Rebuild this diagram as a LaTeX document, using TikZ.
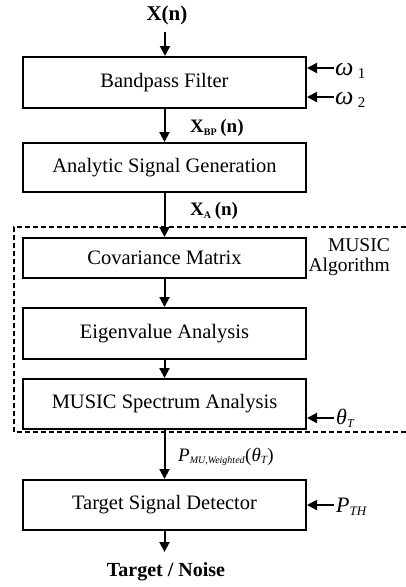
\documentclass[tikz,border=0pt]{standalone}
\usepackage{fontspec}
\setmainfont{Liberation Serif}
\usetikzlibrary{arrows.meta}
\begin{document}
\begin{tikzpicture}[x=1pt,y=-1pt,
  blk/.style={draw,line width=2pt,minimum width=283pt,inner sep=0pt,font=\fontsize{20.5}{23}\selectfont},
  arr/.style={line width=2pt,-{Triangle[length=10pt,width=10pt]}},
  lbl/.style={inner sep=0pt,font=\fontsize{20.5}{23}\selectfont},
  dbox/.style={line width=1.8pt,dash pattern=on 5pt off 3pt}]
\useasboundingbox (0,0) rectangle (406,587);
\node[blk,minimum height=51pt] (bpf) at (164.5,82.5) {Bandpass Filter};
\node[blk,minimum height=49pt] (asg) at (164.5,167.5) {Analytic Signal Generation};
\node[blk,minimum height=40pt] (cov) at (164.5,258) {Covariance Matrix};
\node[blk,minimum height=51pt] (eig) at (164.5,333.5) {Eigenvalue Analysis};
\node[blk,minimum height=50pt] (mus) at (164.5,404) {MUSIC Spectrum Analysis};
\node[blk,minimum height=50pt] (tsd) at (164.5,505) {Target Signal Detector};
% input / output
\node[lbl,font=\fontsize{21}{23}\selectfont\bfseries] (xn) at (167,15) {X(n)};
\coordinate (xin) at (165,32);
\draw[arr] (xin) -- (xin |- bpf.north);
\draw[arr] (bpf.south) -- (asg.north);
\draw[arr] (asg.south) -- (cov.north);
\draw[arr] (cov.south) -- (eig.north);
\draw[arr] (eig.south) -- (mus.north);
\draw[arr] (mus.south) -- (tsd.north);
\coordinate (out) at (164.5,552);
\draw[arr] (tsd.south) -- (out);
\node[lbl,font=\fontsize{20}{22}\selectfont\bfseries] (tn) at (166,572) {Target / Noise};
% signal labels
\node[lbl,anchor=west,font=\fontsize{19}{20}\selectfont\bfseries] (xbp) at (190,128) {X\textsubscript{\fontsize{10}{10}\selectfont BP}\,(n)};
\node[lbl,anchor=west,font=\fontsize{19}{20}\selectfont\bfseries] (xa) at (190,211) {X\textsubscript{\fontsize{10}{10}\selectfont A}\,(n)};
\node[lbl,anchor=west,font=\fontsize{19}{20}\selectfont] (pmu) at (178,457) {\itshape P\textsubscript{\fontsize{10}{10}\selectfont MU,Weighted}\upshape(\itshape θ\textsubscript{\fontsize{11}{11}\selectfont T}\upshape)};
% side inputs
\coordinate (w1) at (334,68);
\coordinate (w2) at (334,97);
\coordinate (th) at (334,418);
\coordinate (pt) at (334,505);
\draw[arr] (w1) -- (w1 -| bpf.east);
\draw[arr] (w2) -- (w2 -| bpf.east);
\draw[arr] (th) -- (th -| mus.east);
\draw[arr] (pt) -- (pt -| tsd.east);
\node[lbl,anchor=west,font=\fontsize{26}{26}\selectfont] (lw1) at (335,71) {\itshape ω\upshape\,\textsubscript{\fontsize{15}{15}\selectfont 1}};
\node[lbl,anchor=west,font=\fontsize{26}{26}\selectfont] (lw2) at (335,100) {\itshape ω\upshape\,\textsubscript{\fontsize{15}{15}\selectfont 2}};
\node[lbl,anchor=west,font=\fontsize{22}{22}\selectfont] (lth) at (336,418) {\itshape θ\textsubscript{\fontsize{12}{12}\selectfont T}};
\node[lbl,anchor=west,font=\fontsize{22}{22}\selectfont] (lpt) at (336,507) {\itshape P\textsubscript{\fontsize{13}{13}\selectfont TH}};
% MUSIC algorithm group
\draw[dbox] (406,227) -- (14,227) -- (14,432) -- (406,432);
\node[lbl,align=right,anchor=east,font=\fontsize{19.5}{20}\selectfont] (mal) at (390,257) {MUSIC\\Algorithm};
\end{tikzpicture}
\end{document}
